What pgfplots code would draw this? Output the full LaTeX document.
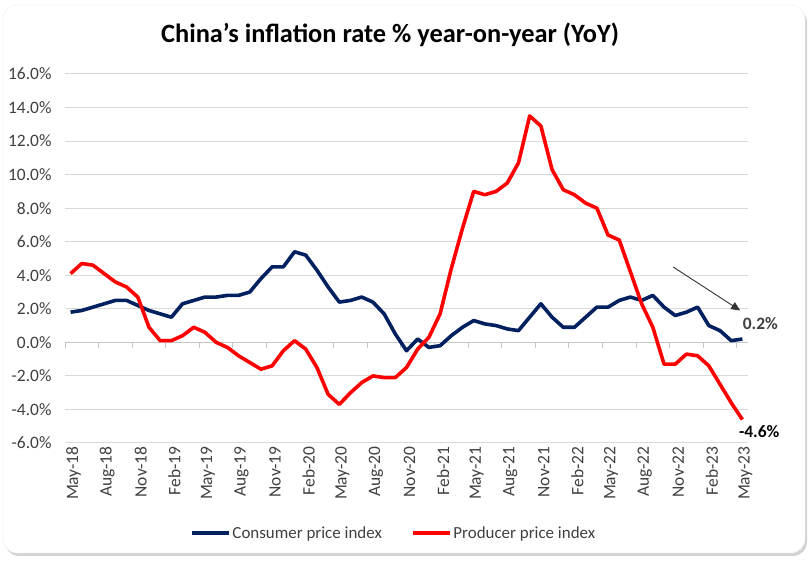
\documentclass[border=0pt]{standalone}
\usepackage{pgfplots}
\pgfplotsset{compat=1.18}
\usepackage{fontspec}
\setmainfont{Carlito}
\usetikzlibrary{arrows.meta,shadows}
\definecolor{cpiblue}{HTML}{002060}
\definecolor{ppired}{HTML}{FF0000}
\definecolor{gridgray}{HTML}{D9D9D9}
\definecolor{labgray}{HTML}{404040}
\begin{document}
\begin{tikzpicture}[x=1bp,y=1bp]
\path[use as bounding box] (0,0) rectangle (810,563);
\fill[white, rounded corners=14bp, drop shadow={opacity=0.35, shadow xshift=2bp, shadow yshift=-3bp}] (3,10) rectangle (805,558);
\draw[gray!15, rounded corners=14bp] (3,10) rectangle (805,558);
\node[font=\fontsize{26.5}{30}\selectfont\bfseries] at (390,528) {China's inflation rate \% year-on-year (YoY)};
\begin{axis}[
  at={(65bp,120bp)}, anchor=south west,
  scale only axis, width=683bp, height=369bp,
  xmin=-0.5, xmax=60.5, ymin=-6, ymax=16,
  ytick={-6,-4,...,16},
  xtick={0,3,...,60},
  xticklabels={May-18,Aug-18,Nov-18,Feb-19,May-19,Aug-19,Nov-19,Feb-20,May-20,Aug-20,Nov-20,Feb-21,May-21,Aug-21,Nov-21,Feb-22,May-22,Aug-22,Nov-22,Feb-23,May-23},
  axis line style={draw=none},
  major tick length=0pt,
  ymajorgrids, grid style={gridgray, line width=1bp},
  /pgf/number format/assume math mode=true,
  yticklabel={\pgfmathprintnumber[fixed,fixed zerofill,precision=1]{\tick}\%},
  yticklabel style={font=\fontsize{17.5}{20}\selectfont, text=labgray, xshift=-10bp},
  xticklabel style={font=\fontsize{17.5}{20}\selectfont, text=labgray, rotate=90, anchor=east, yshift=-3bp},
  legend style={at={(0.481,-0.244)}, anchor=center, draw=none, fill=none, legend columns=2,
    font=\fontsize{17}{20}\selectfont, text=labgray,
    /tikz/every even column/.append style={column sep=27bp}},
  legend image code/.code={\draw[#1] (0bp,0bp) -- (37bp,0bp);},
  clip=false,
]
\draw[gray!45, line width=1bp] (axis cs:-0.5,0) -- (axis cs:60.5,0);
\pgfplotsinvokeforeach{0,...,20}{\draw[gray!45, line width=1bp] (axis cs:{-0.5+3*#1},0) -- ([yshift=-6bp]axis cs:{-0.5+3*#1},0);}
\addplot[cpiblue, line width=3.6bp, line join=round] coordinates {
(0,1.8)(1,1.9)(2,2.1)(3,2.3)(4,2.5)(5,2.5)(6,2.2)(7,1.9)
(8,1.7)(9,1.5)(10,2.3)(11,2.5)(12,2.7)(13,2.7)(14,2.8)(15,2.8)(16,3.0)(17,3.8)(18,4.5)(19,4.5)
(20,5.4)(21,5.2)(22,4.3)(23,3.3)(24,2.4)(25,2.5)(26,2.7)(27,2.4)(28,1.7)(29,0.5)(30,-0.5)(31,0.2)
(32,-0.3)(33,-0.2)(34,0.4)(35,0.9)(36,1.3)(37,1.1)(38,1.0)(39,0.8)(40,0.7)(41,1.5)(42,2.3)(43,1.5)
(44,0.9)(45,0.9)(46,1.5)(47,2.1)(48,2.1)(49,2.5)(50,2.7)(51,2.5)(52,2.8)(53,2.1)(54,1.6)(55,1.8)
(56,2.1)(57,1.0)(58,0.7)(59,0.1)(60,0.2)};
\addlegendentry{Consumer price index}
\addplot[ppired, line width=3.6bp, line join=round] coordinates {
(0,4.1)(1,4.7)(2,4.6)(3,4.1)(4,3.6)(5,3.3)(6,2.7)(7,0.9)
(8,0.1)(9,0.1)(10,0.4)(11,0.9)(12,0.6)(13,0.0)(14,-0.3)(15,-0.8)(16,-1.2)(17,-1.6)(18,-1.4)(19,-0.5)
(20,0.1)(21,-0.4)(22,-1.5)(23,-3.1)(24,-3.7)(25,-3.0)(26,-2.4)(27,-2.0)(28,-2.1)(29,-2.1)(30,-1.5)(31,-0.4)
(32,0.3)(33,1.7)(34,4.4)(35,6.8)(36,9.0)(37,8.8)(38,9.0)(39,9.5)(40,10.7)(41,13.5)(42,12.9)(43,10.3)
(44,9.1)(45,8.8)(46,8.3)(47,8.0)(48,6.4)(49,6.1)(50,4.2)(51,2.3)(52,0.9)(53,-1.3)(54,-1.3)(55,-0.7)
(56,-0.8)(57,-1.4)(58,-2.5)(59,-3.6)(60,-4.6)};
\addlegendentry{Producer price index}
\node[font=\fontsize{17.5}{20}\selectfont\bfseries, text=labgray] at (axis cs:61.6,1.1) {0.2\%};
\node[font=\fontsize{17.5}{20}\selectfont\bfseries, text=black] at (axis cs:61.5,-5.3) {-4.6\%};
\draw[black!80, line width=0.9bp, -{Triangle[length=9bp,width=8bp]}] (axis cs:53.8,4.5) -- (axis cs:59.8,1.9);
\end{axis}
\end{tikzpicture}
\end{document}
